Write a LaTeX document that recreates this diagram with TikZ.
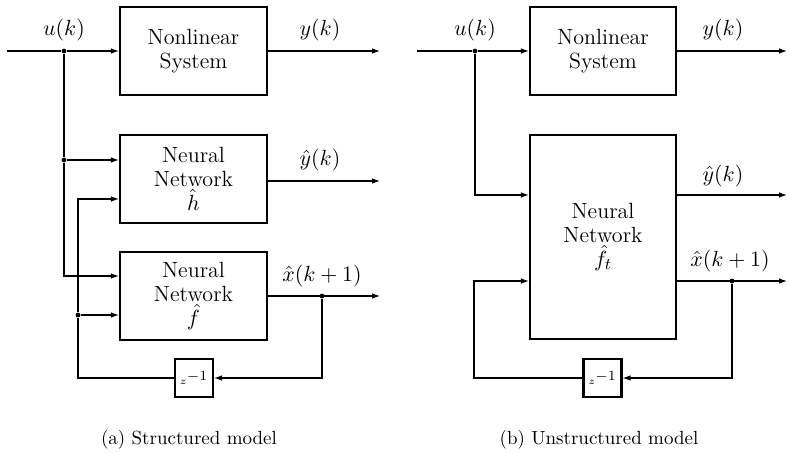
\documentclass[tikz,border=0pt]{standalone}
\usepackage{fontspec}
\usetikzlibrary{arrows.meta}
\tikzset{
  blk/.style={draw, line width=1.1pt, align=center, inner sep=0pt, font=\fontsize{11}{12}\selectfont},
  delay/.style={draw, line width=1.1pt, minimum width=19pt, minimum height=19pt, inner sep=0pt, font=\fontsize{10}{12}\selectfont},
  wire/.style={line width=0.55pt},
  arr/.style={wire, -{Latex[length=4pt,width=2.8pt]}},
  dot/.style={circle, fill, inner sep=0pt, minimum size=2.4pt},
  lbl/.style={inner sep=0pt, font=\fontsize{11}{13}\selectfont},
  captxt/.style={inner sep=0pt, font=\fontsize{9.5}{11}\selectfont},
}
\newcommand{\zinv}{$\scriptscriptstyle z^{\scriptstyle -1}$}
\begin{document}
\begin{tikzpicture}[x=0.5pt, y=-0.5pt]
\useasboundingbox (0,0) rectangle (789,453);

% ---------- (a) structured model ----------
\node[blk, minimum width=73.5pt, minimum height=44pt] (ns1) at (193.5,51) {Nonlinear\\System};
\node[blk, minimum width=73.5pt, minimum height=44pt] (nnh) at (193.5,179) {Neural\\Network\\$\hat{h}$};
\node[blk, minimum width=73.5pt, minimum height=44pt] (nnf) at (193.5,296) {Neural\\Network\\$\hat{f}$};
\node[delay] (z1) at (194,378) {\zinv};

\coordinate (inA) at (7,51);
\node[dot] (ja) at (64,51) {};
\node[dot] (jh) at (64,160) {};
\coordinate (fu) at (64,276);
\coordinate (hx) at (78,199);
\node[dot] (jf) at (78,315) {};
\coordinate (fbA) at (78,378);
\node[dot] (jx) at (322,296) {};
\coordinate (oy) at (380,51);
\coordinate (oyh) at (380,181);
\coordinate (ox) at (380,296);

\draw[wire] (inA) -- (ja);
\draw[arr] (ja) -- (ns1.west);
\draw[arr] (ns1.east) -- (oy);
\draw[wire] (ja) -- (jh);
\draw[arr] (jh) -- (nnh.west |- jh);
\draw[arr] (jh) -- (fu) -- (nnf.west |- fu);
\draw[arr] (nnh.east |- oyh) -- (oyh);
\draw[arr] (nnf.east |- ox) -- (ox);
\draw[arr] (jx) |- (z1.east);
\draw[wire] (z1.west) -- (fbA) -- (jf);
\draw[arr] (jf) -- (nnf.west |- jf);
\draw[arr] (jf) -- (hx) -- (nnh.west |- hx);

\node[lbl] (lu1) at (64,30) {$u(k)$};
\node[lbl] (ly1) at (320,30) {$y(k)$};
\node[lbl] (lyh1) at (320,160) {$\hat{y}(k)$};
\node[lbl] (lx1) at (322,276) {$\hat{x}(k+1)$};
\node[captxt] (cap1) at (189,440) {(a) Structured model};

% ---------- (b) unstructured model ----------
\node[blk, minimum width=73pt, minimum height=44pt] (ns2) at (603,51) {Nonlinear\\System};
\node[blk, minimum width=73pt, minimum height=102pt] (nnt) at (603,237) {Neural\\Network\\$\hat{f}_t$};
\node[delay] (z2) at (602.5,378) {\zinv};

\coordinate (inB) at (417,51);
\node[dot] (jb) at (475,51) {};
\coordinate (ub) at (475,195);
\node[dot] (jx2) at (732,281) {};
\coordinate (fbB) at (474,378);
\coordinate (fbC) at (474,281);
\coordinate (oy2) at (787,51);
\coordinate (oyh2) at (787,195);
\coordinate (ox2) at (787,281);

\draw[wire] (inB) -- (jb);
\draw[arr] (jb) -- (ns2.west);
\draw[arr] (ns2.east) -- (oy2);
\draw[arr] (jb) -- (ub) -- (nnt.west |- ub);
\draw[arr] (nnt.east |- oyh2) -- (oyh2);
\draw[arr] (nnt.east |- ox2) -- (ox2);
\draw[arr] (jx2) |- (z2.east);
\draw[arr] (z2.west) -- (fbB) -- (fbC) -- (nnt.west |- fbC);

\node[lbl] (lu2) at (475,30) {$u(k)$};
\node[lbl] (ly2) at (723,30) {$y(k)$};
\node[lbl] (lyh2) at (723,176) {$\hat{y}(k)$};
\node[lbl] (lx2) at (730,261) {$\hat{x}(k+1)$};
\node[captxt] (cap2) at (599,440) {(b) Unstructured model};
\end{tikzpicture}
\end{document}
